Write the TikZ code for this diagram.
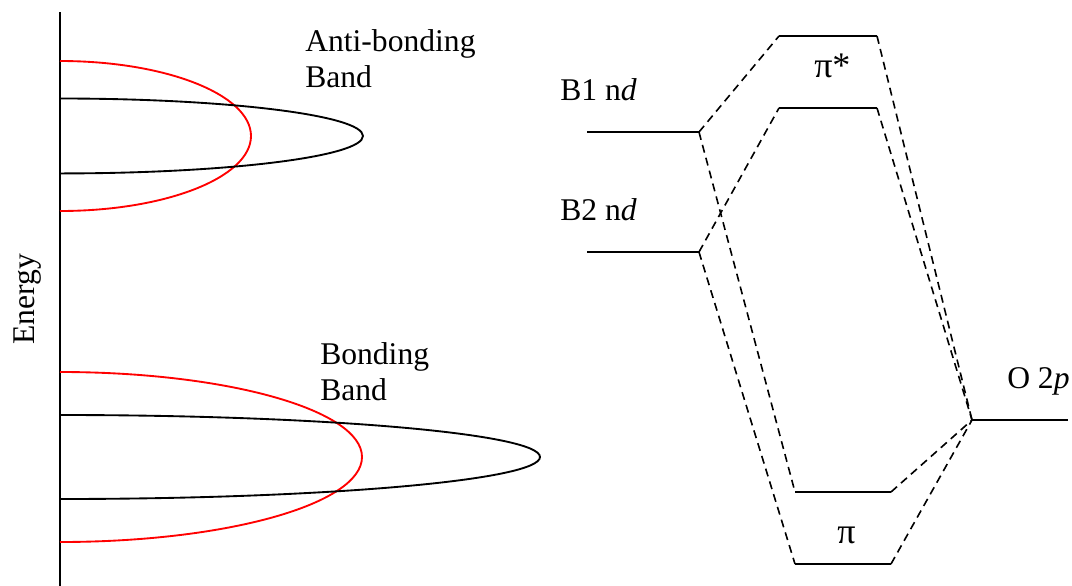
\documentclass[tikz,border=0pt]{standalone}
\usepackage{fontspec}
\setmainfont{Liberation Serif}
\begin{document}
\begin{tikzpicture}[x=0.75pt,y=-0.75pt,
  level/.style={line width=1.5pt},
  link/.style={line width=1.2pt, dash pattern=on 6pt off 4pt},
  band/.style={line width=1.4pt},
  lbl/.style={font=\fontsize{23.7}{26.5}\selectfont, inner sep=0pt, anchor=base west, align=left},
  greek/.style={lbl, font=\fontsize{27}{30}\selectfont}]
\useasboundingbox (0,0) rectangle (1072,586);

% energy axis
\coordinate (axtop) at (60,12);
\coordinate (axbot) at (60,586);
\draw[line width=1.4pt] (axtop) -- (axbot);
\node[lbl, anchor=base, rotate=90] (energy) at (35,299) {Energy};

% density of states: anti-bonding band
\draw[band, red] (60,61) arc[start angle=90, end angle=-90, x radius=143.25pt, y radius=56.25pt];
\draw[band] (60,98.5) arc[start angle=90, end angle=-90, x radius=227.25pt, y radius=28.1pt];
\node[lbl] (anti) at (305,87) {Anti-bonding\\Band};

% density of states: bonding band
\draw[band, red] (60,372) arc[start angle=90, end angle=-90, x radius=226.5pt, y radius=63.75pt];
\draw[band] (60,415) arc[start angle=90, end angle=-90, x radius=360pt, y radius=31.5pt];
\node[lbl] (bond) at (320,400) {Bonding\\Band};

% energy levels
\coordinate (b1L) at (587,132);  \coordinate (b1R) at (699,132);
\coordinate (b2L) at (587,252);  \coordinate (b2R) at (699,252);
\coordinate (ps1L) at (779,36);  \coordinate (ps1R) at (877,36);
\coordinate (ps2L) at (779,108); \coordinate (ps2R) at (877,108);
\coordinate (p1L) at (795,492);  \coordinate (p1R) at (891,492);
\coordinate (p2L) at (795,564);  \coordinate (p2R) at (891,564);
\coordinate (oL) at (972,420);   \coordinate (oR) at (1068,420);

\foreach \a/\b in {b1L/b1R, b2L/b2R, ps1L/ps1R, ps2L/ps2R, p1L/p1R, p2L/p2R, oL/oR}
  \draw[level] (\a) -- (\b);

% correlation lines
\draw[link] (b1R) -- (ps1L);
\draw[link] (b1R) -- (p1L);
\draw[link] (b2R) -- (ps2L);
\draw[link] (b2R) -- (p2L);
\draw[link] (ps1R) -- (oL);
\draw[link] (ps2R) -- (oL);
\draw[link] (p1R) -- (oL);
\draw[link] (p2R) -- (oL);

% level labels
\node[lbl] (lb1) at (560,100) {B1 n\textit{d}};
\node[lbl] (lb2) at (560,220) {B2 n\textit{d}};
\node[greek] (lps) at (814,77) {π*};
\node[greek] (lp) at (837,543) {π};
\node[lbl] (lo) at (1007,388) {O 2\textit{p}};
\end{tikzpicture}
\end{document}
